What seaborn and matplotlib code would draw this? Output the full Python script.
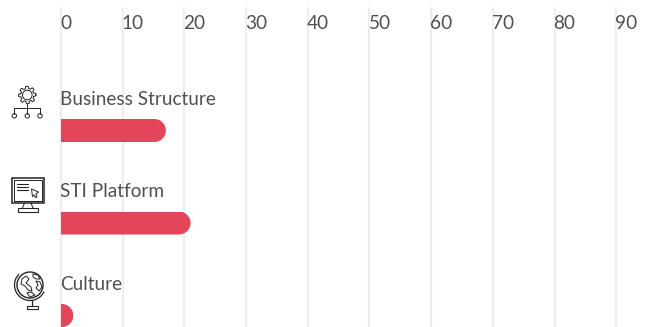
import numpy as np
import pandas as pd
import matplotlib
matplotlib.use("Agg")
import matplotlib.pyplot as plt
import seaborn as sns
from matplotlib.patches import Circle, Rectangle, Arc, Polygon
from matplotlib.path import Path
from matplotlib.transforms import IdentityTransform

categories = ["Business Structure", "STI Platform", "Culture"]
values = [17, 21, 2]
x_ticks = [0, 10, 20, 30, 40, 50, 60, 70, 80, 90]

W, H = 652, 327
BAR = "#e5455a"
TEXT = "#505050"
GRID = "#eeeeee"
FONT = "Lato"
FS = 13.65

sns.set_theme(style="white")
plt.rcParams["font.family"] = [FONT, "DejaVu Sans"]

fig = plt.figure(figsize=(W / 100, H / 100), dpi=100)
x0, px_per = 61.0, 6.17
top, rowstep, row0 = 8.0, 92.5, 130.5
ax = fig.add_axes([x0 / W, 0, 1 - x0 / W, (H - top) / H])
df = pd.DataFrame({"category": categories, "value": values})
sns.barplot(data=df, x="value", y="category", color=BAR, saturation=1,
            width=23 / rowstep, ax=ax, zorder=3, linewidth=0, edgecolor="none")
ax.set_xlim(0, (W - x0) / px_per)
ax.set_ylim((H - row0) / rowstep, -(row0 - top) / rowstep)
ax.set_xlabel(""); ax.set_ylabel("")
ax.set_yticks([])
ax.set_xticks(x_ticks)
ax.set_xticklabels([])
ax.tick_params(length=0)
for s in ax.spines.values():
    s.set_visible(False)
ax.grid(axis="x", color=GRID, lw=1.6, zorder=0)
ax.set_axisbelow(True)
for gl in ax.get_xgridlines():
    gl.set_clip_on(False)

off = -1 / px_per
for t in x_ticks:
    ax.text(t + off, -(row0 - 23.5) / rowstep, str(t), ha="left", va="center",
            fontsize=FS, color=TEXT, zorder=5, clip_on=False)
for i, c in enumerate(categories):
    ax.text(off, i - 31.5 / rowstep, c, ha="left", va="center",
            fontsize=FS, color=TEXT, zorder=5, clip_on=False)

# round the right end of each bar with a clip shape derived from the drawn bar
fig.canvas.draw()
for p in ax.patches:
    bb = p.get_window_extent()
    r = bb.height / 2
    th = np.linspace(-np.pi / 2, np.pi / 2, 41)
    cx = bb.x1 - r
    cy = (bb.y0 + bb.y1) / 2
    verts = [(bb.x0 - 5, bb.y0)] + [(cx + r * np.cos(a), cy + r * np.sin(a)) for a in th] + [(bb.x0 - 5, bb.y1), (bb.x0 - 5, bb.y0)]
    p.set_clip_path(Path(verts, closed=True), IdentityTransform())

# pictograms, in pixel space
ov = fig.add_axes([0, 0, 1, 1], facecolor="none", zorder=6)
ov.set_xlim(0, W); ov.set_ylim(H, 0); ov.axis("off")
K = "#222222"; LW = 0.7

def line(xs, ys, lw=LW):
    ov.plot(xs, ys, color=K, lw=lw, solid_capstyle="round")

def circ(x, y, r, lw=LW, fc="none"):
    ov.add_patch(Circle((x, y), r, fill=fc != "none", fc=fc, ec=K, lw=lw))

def blob(pts, lw=0.7):
    ov.add_patch(Polygon(pts, closed=True, fill=False, ec=K, lw=lw, joinstyle="round"))

# gear + org tree
gx, gy = 27.3, 95
ang = np.linspace(0, 2 * np.pi, 289)
rad = 7.6 + 1.1 * np.clip(2.5 * np.cos(8 * ang + 0.39), -1, 1)
line(gx + rad * np.cos(ang), gy + rad * np.sin(ang))
circ(gx, gy, 4.8)
line([27.3, 27.3], [104, 113.5])
line([14.3, 40], [108, 108])
line([14.3, 14.3], [108, 113.5])
line([40, 40], [108, 113.5])
for cx in (14.3, 27.3, 40):
    circ(cx, 115.8, 2.2, fc="white")

# monitor
ov.add_patch(Rectangle((11.5, 177.5), 32.5, 25.5, fill=False, ec=K, lw=1.1))
ov.add_patch(Rectangle((14, 180), 27.5, 20.5, fill=False, ec=K, lw=0.7))
for yy in (184, 187, 190):
    line([17, 28], [yy, yy], 0.8)
blob([(31.5, 189), (38.5, 192), (35.8, 194), (37, 197), (35.5, 197.5), (33.8, 195), (32.5, 196.5)])
line([24.5, 22.5], [203, 208])
line([31, 33], [203, 208])
ov.add_patch(Rectangle((18, 208), 20, 4.2, fill=False, ec=K, lw=0.8))

# globe
cx, cy = 30, 285
circ(cx, cy, 13, 1.0)
ov.add_patch(Arc((cx, cy), 31, 31, angle=0, theta1=25, theta2=225, ec=K, lw=0.9))
blob([(22, 279), (26, 276), (29, 279), (26, 283), (31, 287), (32, 291), (28, 290), (25, 286), (21, 284)])
blob([(36, 281), (40, 282), (42, 287), (39, 291), (36, 288), (38, 285)])
blob([(33, 274), (38, 275), (40, 279), (36, 279), (33, 277)])
blob([(27, 293), (31, 292), (35, 295), (30, 297)])
line([32, 32], [300.5, 306], 0.9)
ov.add_patch(Rectangle((26.5, 305.5), 11.5, 3.5, fill=False, ec=K, lw=0.8))

fig.savefig("out.png", dpi=100)
